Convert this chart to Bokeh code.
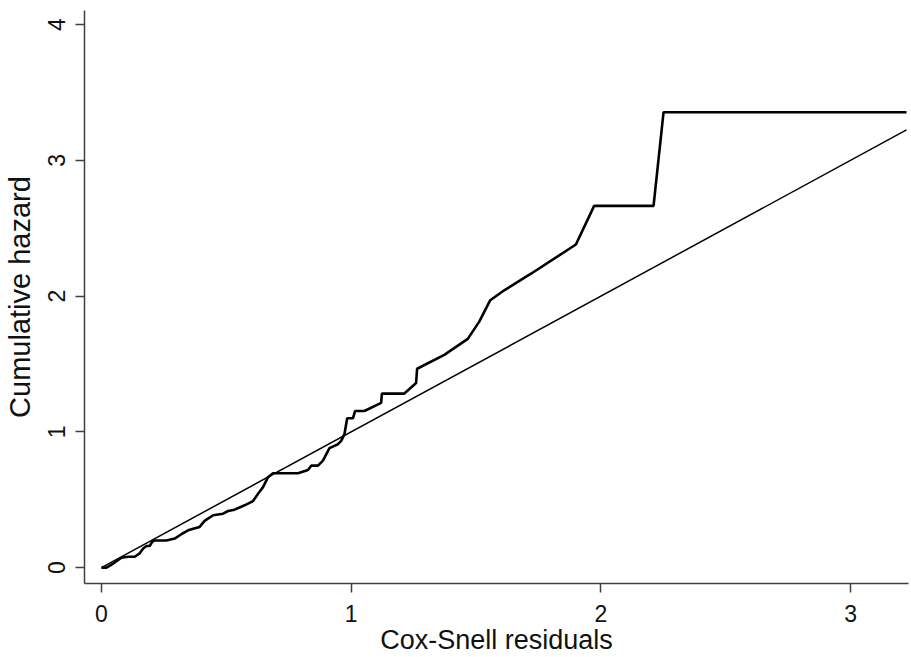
from bokeh.plotting import figure
from bokeh.models import Range1d, FixedTicker
from bokeh.embed import file_html
from bokeh.resources import INLINE

# Nelson-Aalen cumulative hazard of the Cox-Snell residuals
cs_resid = [0, 0.02, 0.047, 0.08, 0.107, 0.133, 0.153, 0.167, 0.18, 0.193, 0.203,
            0.213, 0.26, 0.293, 0.32, 0.347, 0.367, 0.393, 0.413, 0.447, 0.487,
            0.507, 0.533, 0.573, 0.607, 0.627, 0.647, 0.667, 0.687, 0.787, 0.827,
            0.84, 0.867, 0.887, 0.913, 0.947, 0.96, 0.973, 0.984, 1.007, 1.016,
            1.053, 1.12, 1.123, 1.213, 1.26, 1.264, 1.373, 1.467, 1.513, 1.557,
            1.613, 1.72, 1.9, 1.973, 2.211, 2.251, 3.224]
cum_hazard = [0, 0, 0.03, 0.073, 0.08, 0.08, 0.105, 0.141, 0.159, 0.159, 0.19,
              0.2, 0.2, 0.214, 0.246, 0.275, 0.287, 0.3, 0.344, 0.386, 0.397,
              0.417, 0.427, 0.459, 0.49, 0.544, 0.593, 0.666, 0.695, 0.695, 0.719,
              0.751, 0.751, 0.788, 0.88, 0.909, 0.934, 0.983, 1.1, 1.1, 1.154,
              1.154, 1.214, 1.282, 1.282, 1.36, 1.465, 1.567, 1.685, 1.812, 1.97,
              2.043, 2.165, 2.38, 2.665, 2.665, 3.355, 3.355]

# 45-degree reference line over the residual range
ref_x = [0, 3.224]
ref_y = [0, 3.224]

x_ticks = [0, 1, 2, 3]
y_ticks = [0, 1, 2, 3, 4]

FONT = "Liberation Sans"
AXIS_GREY = "#404040"

p = figure(width=911, height=657, output_backend="svg", toolbar_location=None,
           x_range=Range1d(-0.068, 3.232), y_range=Range1d(-0.117, 4.104),
           min_border_left=83, min_border_right=3, min_border_top=10,
           min_border_bottom=70)
p.outline_line_color = None
p.grid.visible = False
p.background_fill_color = "white"
p.border_fill_color = "white"

p.line(cs_resid, cum_hazard, line_color="black", line_width=2.6)
p.line(ref_x, ref_y, line_color="black", line_width=1.5)

for ax in (p.xaxis[0], p.yaxis[0]):
    ax.axis_line_color = AXIS_GREY
    ax.axis_line_width = 1.5
    ax.major_tick_line_color = AXIS_GREY
    ax.major_tick_line_width = 1.5
    ax.major_tick_out = 9
    ax.major_tick_in = 0
    ax.minor_tick_line_color = None
    ax.major_label_text_font = FONT
    ax.major_label_text_font_size = "23px"
    ax.major_label_text_color = "#111111"
    ax.axis_label_text_font = FONT
    ax.axis_label_text_font_style = "normal"
    ax.axis_label_text_color = "#111111"

p.xaxis.ticker = FixedTicker(ticks=x_ticks)
p.yaxis.ticker = FixedTicker(ticks=y_ticks)
p.xaxis.axis_label = "Cox-Snell residuals"
p.yaxis.axis_label = "Cumulative hazard"
p.xaxis.axis_label_text_font_size = "27px"
p.yaxis.axis_label_text_font_size = "29px"
p.xaxis.major_label_standoff = 12
p.xaxis.axis_label_standoff = 0
p.yaxis.major_label_orientation = "vertical"
p.yaxis.major_label_standoff = 10
p.yaxis.axis_label_standoff = 10

open("out.html", "w").write(file_html(p, INLINE))
